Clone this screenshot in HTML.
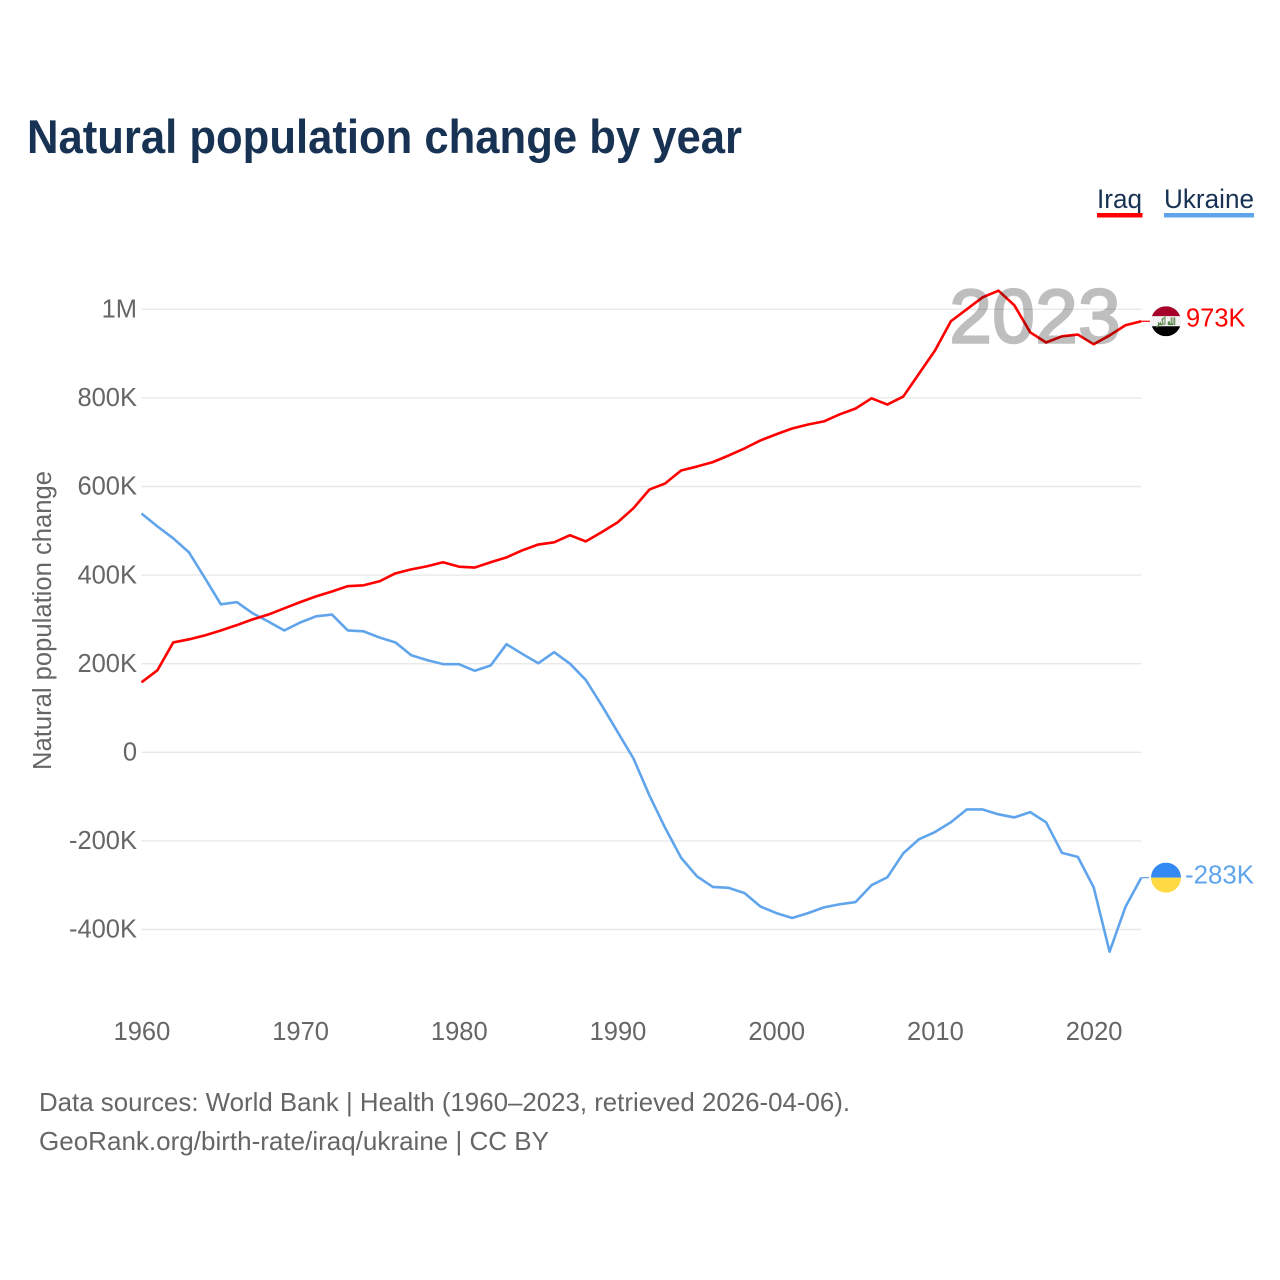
<!DOCTYPE html>
<html lang="en">
<head>
<meta charset="utf-8">
<title>Natural population change by year</title>
<style>
  html, body { margin: 0; padding: 0; background: #fff; }
  svg { display: block; font-family: "Liberation Sans", sans-serif; }
</style>
</head>
<body>
<svg id="chart" xmlns="http://www.w3.org/2000/svg" width="1280" height="1280" viewBox="0 0 1280 1280">
  <rect x="0" y="0" width="1280" height="1280" fill="#ffffff"/>
  <text x="27" y="153" font-size="47" font-weight="700" fill="#173253" textLength="715" lengthAdjust="spacingAndGlyphs">Natural population change by year</text>

  <g>
    <g>
      <text x="1097" y="208" font-size="27" fill="#173253" textLength="45" lengthAdjust="spacingAndGlyphs">Iraq</text>
      <rect x="1097" y="213" width="45.5" height="4.5" fill="#ff0000"/>
    </g>
    <g>
      <text x="1164" y="208" font-size="27" fill="#173253" textLength="90" lengthAdjust="spacingAndGlyphs">Ukraine</text>
      <rect x="1164" y="213" width="90" height="4.5" fill="#60a5ec"/>
    </g>
  </g>

  <g id="grid"></g>
  <g id="y-ticks"></g>
  <g id="x-ticks"></g>
  <text transform="translate(51 620.5) rotate(-90)" text-anchor="middle" font-size="25.5" fill="#666666" textLength="299" lengthAdjust="spacingAndGlyphs">Natural population change</text>

  <g id="series"></g>

  <text id="year-watermark" x="949.5" y="342.5" font-size="76" fill="#000000" stroke="#000000" stroke-width="2.5" opacity="0.25" textLength="171" lengthAdjust="spacing">2023</text>

  <defs>
    <clipPath id="clip-iraq"><circle id="clip-iraq-circle" cx="1166" cy="320" r="15"/></clipPath>
    <clipPath id="clip-ukraine"><circle id="clip-ukraine-circle" cx="1166" cy="877" r="15"/></clipPath>
  </defs>
  <g id="end-markers"></g>

  <g>
    <text x="39" y="1111" font-size="26" fill="#666666" textLength="811" lengthAdjust="spacingAndGlyphs">Data sources: World Bank | Health (1960–2023, retrieved 2026-04-06).</text>
    <text x="39" y="1150" font-size="26" fill="#666666" textLength="510" lengthAdjust="spacingAndGlyphs">GeoRank.org/birth-rate/iraq/ukraine | CC BY</text>
  </g>
</svg>

<script>
const years = [1960,1961,1962,1963,1964,1965,1966,1967,1968,1969,1970,1971,1972,1973,1974,1975,1976,1977,1978,1979,1980,1981,1982,1983,1984,1985,1986,1987,1988,1989,1990,1991,1992,1993,1994,1995,1996,1997,1998,1999,2000,2001,2002,2003,2004,2005,2006,2007,2008,2009,2010,2011,2012,2013,2014,2015,2016,2017,2018,2019,2020,2021,2022,2023];
const iraqValues = [158,185,248,255,264,275,287,300,311,325,339,352,363,375,377,386,404,413,420,429,419,417,429,440,456,469,474,490,476,497,519,551,593,607,636,645,655,670,686,704,718,731,740,747,763,776,799,785,803,855,907,973,1000,1027,1042,1009,948,925,939,943,921,941,964,973];
const ukraineValues = [539,510,483,451,393,334,339,314,295,275,293,307,311,275,273,259,248,219,208,199,199,184,196,244,222,201,226,200,163,106,46,-14,-97,-171,-238,-280,-304,-306,-318,-348,-363,-374,-363,-350,-343,-338,-300,-282,-228,-196,-180,-158,-129,-129,-140,-147,-135,-158,-227,-236,-305,-450,-349,-283];
const yTickValues = [-400,-200,0,200,400,600,800,1000];
const yTickLabels = ["-400K","-200K","0","200K","400K","600K","800K","1M"];
const xTickValues = [1960,1970,1980,1990,2000,2010,2020];
const xTickLabels = ["1960","1970","1980","1990","2000","2010","2020"];

const NS = "http://www.w3.org/2000/svg";
const xScale = function (year) { return 141.5 + (year - 1960) * 15.87; };
const yScale = function (value) { return 752.3 - value * 0.443; };
const formatValue = function (v) { return v + "K"; };

function make(tag, parent, attrs, text) {
  const el = document.createElementNS(NS, tag);
  for (const k in attrs) el.setAttribute(k, attrs[k]);
  if (text !== undefined) el.textContent = text;
  parent.appendChild(el);
  return el;
}

const grid = document.getElementById("grid");
const yTicks = document.getElementById("y-ticks");
yTickValues.forEach(function (v, i) {
  const y = yScale(v);
  const line = make("line", grid, { x1: xScale(1960), x2: xScale(2023), y1: y, y2: y, stroke: "#e9e9e9", "stroke-width": 1.4 });
  
  
  const label = make("text", yTicks, { x: 137, y: y + 8.2, "text-anchor": "end", "font-size": 25.5, fill: "#666666" }, yTickLabels[i]);
  
  
});

const xTicks = document.getElementById("x-ticks");
xTickValues.forEach(function (v, i) {
  const label = make("text", xTicks, { x: xScale(v) + 0.4, y: 1040, "text-anchor": "middle", "font-size": 25.5, fill: "#666666" }, xTickLabels[i]);
  
  
});

const seriesGroup = document.getElementById("series");
function linePoints(values) {
  return values.map(function (v, i) { return xScale(years[i]).toFixed(2) + "," + yScale(v).toFixed(2); }).join(" ");
}
const ukraineLine = make("polyline", seriesGroup, { points: linePoints(ukraineValues), fill: "none", stroke: "#60a5ec", "stroke-width": 2.6, "stroke-linejoin": "round" });


const iraqLine = make("polyline", seriesGroup, { points: linePoints(iraqValues), fill: "none", stroke: "#ff0000", "stroke-width": 2.6, "stroke-linejoin": "round" });



const markers = document.getElementById("end-markers");
const flagX = 1166;
const flagR = 15;

/* Iraq end marker */
const iraqEnd = iraqValues[iraqValues.length - 1];
const iraqY = yScale(iraqEnd);
document.getElementById("clip-iraq-circle").setAttribute("cy", iraqY);
const iraqConn = make("line", markers, { x1: xScale(2023), x2: 1150, y1: iraqY, y2: iraqY, stroke: "#ff0000", "stroke-width": 1.2 });


const iraqFlag = make("g", markers, { "clip-path": "url(#clip-iraq)" });


make("rect", iraqFlag, { x: flagX - flagR, y: iraqY - flagR, width: 30, height: 10, fill: "#a5012a" });
make("rect", iraqFlag, { x: flagX - flagR, y: iraqY - 5, width: 30, height: 10, fill: "#f2f2f2" });
make("rect", iraqFlag, { x: flagX - flagR, y: iraqY + 5, width: 30, height: 10, fill: "#000000" });
make("text", iraqFlag, { x: flagX, y: iraqY + 3.8, "text-anchor": "middle", "font-size": 10, "font-weight": 700, fill: "#4f7f3f", stroke: "#4f7f3f", "stroke-width": 0.3, "font-family": "'DejaVu Sans', sans-serif", textLength: 19, lengthAdjust: "spacingAndGlyphs" }, "الله أكبر");
const iraqLabel = make("text", markers, { x: 1186, y: iraqY + 5.2, "font-size": 26, fill: "#ff0000", textLength: 59.5, lengthAdjust: "spacingAndGlyphs" }, formatValue(iraqEnd));



/* Ukraine end marker */
const ukraineEnd = ukraineValues[ukraineValues.length - 1];
const ukraineY = yScale(ukraineEnd);
document.getElementById("clip-ukraine-circle").setAttribute("cy", ukraineY);
const ukraineConn = make("line", markers, { x1: xScale(2023), x2: 1149, y1: ukraineY, y2: ukraineY, stroke: "#60a5ec", "stroke-width": 1.2 });


const ukraineFlag = make("g", markers, { "clip-path": "url(#clip-ukraine)" });


make("rect", ukraineFlag, { x: flagX - flagR, y: ukraineY - flagR, width: 30, height: 15, fill: "#338af3" });
make("rect", ukraineFlag, { x: flagX - flagR, y: ukraineY, width: 30, height: 15, fill: "#ffda44" });
const ukraineLabel = make("text", markers, { x: 1185, y: ukraineY + 5.8, "font-size": 26, fill: "#60a5ec", textLength: 69, lengthAdjust: "spacingAndGlyphs" }, formatValue(ukraineEnd));


</script>
</body>
</html>
